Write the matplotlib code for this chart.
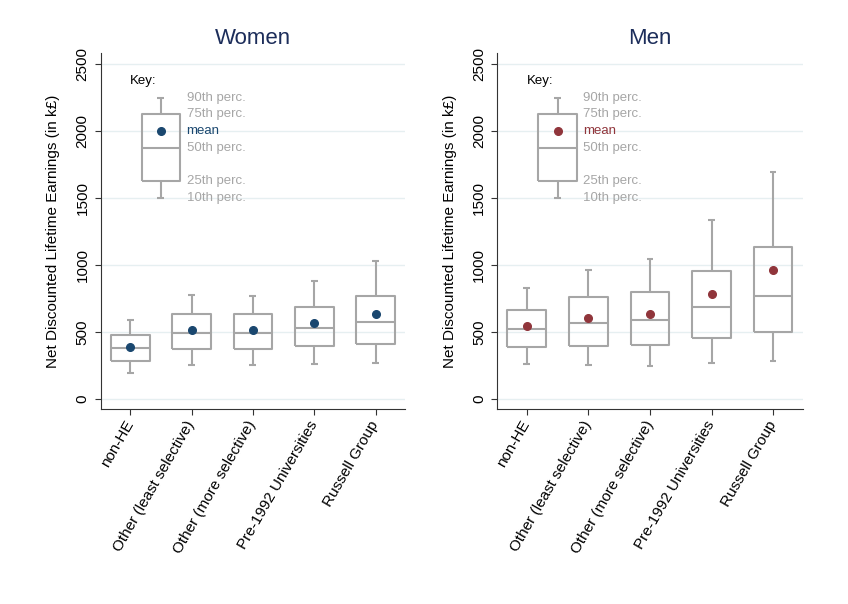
import numpy as np
import matplotlib
matplotlib.use("Agg")
import matplotlib.pyplot as plt

plt.rcParams['font.family'] = ['Liberation Sans', 'DejaVu Sans']

categories = ["non-HE", "Other (least selective)", "Other (more selective)",
              "Pre-1992 Universities", "Russell Group"]

# women: 10th, 25th, 50th, 75th, 90th percentiles and mean
women_p10 = [199, 254, 254, 263, 271]
women_p25 = [288, 373, 373, 395, 410]
women_p50 = [380, 497, 497, 534, 574]
women_p75 = [480, 639, 634, 689, 773]
women_p90 = [589, 776, 771, 878, 1032]
women_mean = [393, 515, 515, 567, 636]

men_p10 = [261, 254, 251, 271, 286]
men_p25 = [388, 400, 403, 460, 505]
men_p50 = [522, 567, 592, 684, 769]
men_p75 = [666, 763, 796, 958, 1134]
men_p90 = [828, 965, 1042, 1338, 1691]
men_mean = [545, 602, 637, 786, 965]

# illustrative key box
key_vals = [1500, 1625, 1875, 2125, 2250]
key_mean = 2000
key_labels = ["10th perc.", "25th perc.", "50th perc.", "75th perc.", "90th perc."]

yticks = [0, 500, 1000, 1500, 2000, 2500]

BOX_COL = '#a6a6a6'
GRID_COL = '#e6eff1'
TITLE_COL = '#1c2d5a'


def draw_box(ax, x, p10, p25, p50, p75, p90, w=0.63, cap=0.11):
    kw = dict(color=BOX_COL, lw=1.5, solid_capstyle='butt', zorder=2)
    ax.plot([x - w/2, x + w/2, x + w/2, x - w/2, x - w/2],
            [p25, p25, p75, p75, p25], **kw)
    ax.plot([x - w/2, x + w/2], [p50, p50], **kw)
    ax.plot([x, x], [p75, p90], **kw)
    ax.plot([x, x], [p10, p25], **kw)
    ax.plot([x - cap/2, x + cap/2], [p90, p90], **kw)
    ax.plot([x - cap/2, x + cap/2], [p10, p10], **kw)


def panel(ax, title, p10, p25, p50, p75, p90, mean, dot_col):
    for i in range(len(categories)):
        draw_box(ax, i, p10[i], p25[i], p50[i], p75[i], p90[i])
    ax.plot(range(len(categories)), mean, 'o', color=dot_col, ms=5.5, zorder=3)

    # key
    kx = 0.5
    draw_box(ax, kx, *key_vals)
    ax.plot([kx], [key_mean], 'o', color=dot_col, ms=5.5, zorder=3)
    ax.text(0.0, 2375, "Key:", fontsize=9.5, color='black', ha='left', va='center')
    for v, lab in zip(key_vals, key_labels):
        ax.text(kx + 0.42, v, lab, fontsize=9.5, color=BOX_COL, ha='left', va='center')
    ax.text(kx + 0.42, key_mean, "mean", fontsize=9.5, color=dot_col, ha='left', va='center')

    ax.set_xlim(-0.48, 4.48)
    ax.set_ylim(-75, 2580)
    ax.set_yticks(yticks)
    ax.set_yticklabels([str(t) for t in yticks], rotation=90, va='center', fontsize=11)
    ax.set_xticks(range(len(categories)))
    ax.set_xticklabels(categories, rotation=60, ha='right', va='center',
                       rotation_mode='anchor', fontsize=11)
    ax.tick_params(axis='x', pad=5, length=4, color='#333333')
    ax.tick_params(axis='y', pad=4, length=4, color='#333333')
    for t in yticks:
        ax.axhline(t, color=GRID_COL, lw=1, zorder=0)
    ax.spines['top'].set_visible(False)
    ax.spines['right'].set_visible(False)
    ax.spines['left'].set_color('#333333')
    ax.spines['bottom'].set_color('#333333')
    ax.set_ylabel("Net Discounted Lifetime Earnings (in k£)", fontsize=11, labelpad=11)
    ax.set_title(title, fontsize=16, color=TITLE_COL, pad=7)


fig = plt.figure(figsize=(8.48, 6.04), dpi=100)
ax1 = fig.add_axes([0.1188, 0.3224, 0.3588, 0.5894])
ax2 = fig.add_axes([0.5864, 0.3224, 0.3601, 0.5894])

panel(ax1, "Women", women_p10, women_p25, women_p50, women_p75, women_p90,
      women_mean, '#1a476f')
panel(ax2, "Men", men_p10, men_p25, men_p50, men_p75, men_p90,
      men_mean, '#90353b')

fig.savefig("out.png", dpi=100)
